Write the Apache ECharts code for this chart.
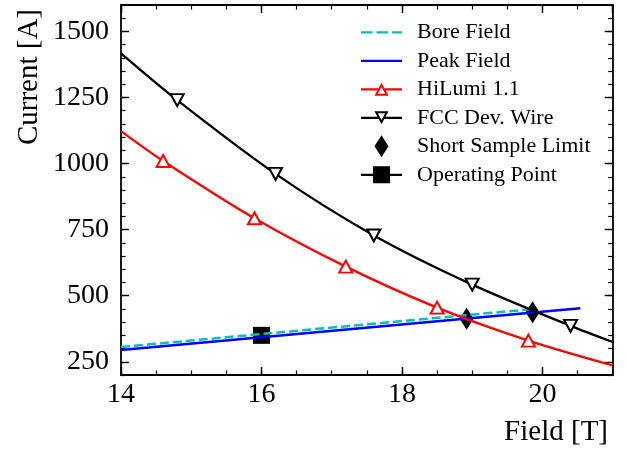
<!DOCTYPE html>
<html>
<head>
<meta charset="utf-8">
<script src="https://cdn.jsdelivr.net/npm/echarts@6/dist/echarts.min.js"></script>
<style>
  html, body { margin: 0; padding: 0; background: #fff; }
  #chart { width: 626px; height: 450px; }
</style>
</head>
<body>
<div id="chart"></div>
<script>
const boreField = [14, 19.84];
const boreCurrent = [306, 449];
const peakField = [14, 20.54];
const peakCurrent = [294.5, 453];
const hiLumiField = [14, 14.6, 15.9, 17.2, 18.5, 19.8, 21];
const hiLumiCurrent = [1123, 1010, 793, 610, 455, 330, 236];
const fccField = [14, 14.8, 16.2, 17.6, 19.0, 20.4, 21];
const fccCurrent = [1417, 1240, 961, 728, 542, 386, 325];
const sslField = [18.92, 19.86];
const sslCurrent = [413, 437];
const opField = [16.0];
const opCurrent = [350];
const currentTicks = [250, 500, 750, 1000, 1250, 1500];

const FONT = '"Liberation Serif", "DejaVu Serif", serif';

const pairs = (xs, ys) => xs.map((x, i) => [x, ys[i]]);
// curve ends carry no marker, only the sampled points do
const curve = (xs, ys) => xs.map((x, i) =>
  i === 0 || i === xs.length - 1 ? { value: [x, ys[i]], symbol: 'none' } : [x, ys[i]]
);

const icons = {
  bore: 'path://M0,-1.1h11.5v2.2h-11.5z M15.5,-1.1h11.5v2.2h-11.5z M31,-1.1h10v2.2h-10z',
  peak: 'path://M0,-1.1h41v2.2h-41z',
  up: 'path://M0,-1.1L18,-1.1L18,1.1L0,1.1Z M23,-1.1L41,-1.1L41,1.1L23,1.1Z M20.5,-6.5L27.5,6.5L13.5,6.5Z M20.5,-2.28L16.85,4.5L24.15,4.5Z',
  down: 'path://M0,-1.1L18,-1.1L18,1.1L0,1.1Z M23,-1.1L41,-1.1L41,1.1L23,1.1Z M13.5,-6.5L27.5,-6.5L20.5,6.5Z M16.85,-4.5L20.5,2.28L24.15,-4.5Z',
  diamond: 'path://M7,0L14,11L7,22L0,11Z',
  square: 'path://M0,-1.1h41v2.2h-41z M12,-8.5h17v17h-17z',
};

const legendItem = (name, icon, color) => ({
  name,
  icon,
  itemStyle: { color, opacity: 1, borderWidth: 0, borderColor: color },
});

const frame = { show: true, onZero: false, lineStyle: { color: '#000', width: 1.8 } };
const majorTick = { show: true, inside: true, length: 8, lineStyle: { color: '#000', width: 1.4 } };
const minorTick = { show: true, inside: true, length: 4.5, lineStyle: { color: '#000', width: 1.2 } };
const labelStyle = { color: '#000', fontFamily: FONT, fontSize: 28, formatter: v => String(v) };

const xAxisBase = { type: 'value', min: 14, max: 21, splitLine: { show: false } };
const yAxisBase = { type: 'value', min: 200, max: 1600, splitLine: { show: false } };

const chart = echarts.init(document.getElementById('chart'));

chart.setOption({
  animation: false,
  grid: { left: 121, right: 13.3, top: 5, bottom: 75, containLabel: false, outerBoundsMode: 'none' },
  legend: {
    orient: 'vertical',
    left: 361,
    top: 21.3,
    padding: 0,
    itemWidth: 41,
    itemHeight: 22,
    itemGap: 6.5,
    selectedMode: false,
    textStyle: { color: '#000', fontFamily: FONT, fontSize: 22, lineHeight: 22, padding: [0, 0, 0, 10] },
    data: [
      legendItem('Bore Field', icons.bore, '#00bfbf'),
      legendItem('Peak Field', icons.peak, '#0000ff'),
      legendItem('HiLumi 1.1', icons.up, '#ff0000'),
      legendItem('FCC Dev. Wire', icons.down, '#000'),
      legendItem('Short Sample Limit', icons.diamond, '#000'),
      legendItem('Operating Point', icons.square, '#000'),
    ],
  },
  xAxis: [
    {
      ...xAxisBase,
      position: 'bottom',
      interval: 2,
      axisLine: frame,
      axisTick: majorTick,
      axisLabel: { ...labelStyle, margin: 6, showMaxLabel: false },
      name: 'Field [T]',
      nameLocation: 'end',
      nameGap: -4.7,
      nameTextStyle: { color: '#000', fontFamily: FONT, fontSize: 29, align: 'right', verticalAlign: 'top', padding: [43, 0, 0, 0] },
    },
    { ...xAxisBase, position: 'bottom', interval: 0.5, axisLine: { show: false }, axisTick: minorTick, axisLabel: { show: false } },
    { ...xAxisBase, position: 'top', interval: 2, axisLine: frame, axisTick: majorTick, axisLabel: { show: false } },
    { ...xAxisBase, position: 'top', interval: 0.5, axisLine: { show: false }, axisTick: minorTick, axisLabel: { show: false } },
  ],
  yAxis: [
    {
      ...yAxisBase,
      position: 'left',
      axisLine: frame,
      axisTick: { ...majorTick, customValues: currentTicks },
      axisLabel: { ...labelStyle, margin: 12, customValues: currentTicks },
      name: 'Current [A]',
      nameLocation: 'end',
      nameRotate: 90,
      nameGap: -4,
      nameTextStyle: { color: '#000', fontFamily: FONT, fontSize: 29, align: 'right', verticalAlign: 'bottom', padding: [0, 0, 77, 0] },
    },
    { ...yAxisBase, position: 'left', interval: 50, axisLine: { show: false }, axisTick: minorTick, axisLabel: { show: false } },
    { ...yAxisBase, position: 'right', axisLine: frame, axisTick: { ...majorTick, customValues: currentTicks }, axisLabel: { show: false } },
    { ...yAxisBase, position: 'right', interval: 50, axisLine: { show: false }, axisTick: minorTick, axisLabel: { show: false } },
  ],
  series: [
    {
      name: 'Bore Field',
      type: 'line',
      data: pairs(boreField, boreCurrent),
      symbol: 'none',
      color: '#00bfbf',
      lineStyle: { color: '#00bfbf', width: 2.5, type: [9, 4] },
    },
    {
      name: 'Peak Field',
      type: 'line',
      data: pairs(peakField, peakCurrent),
      symbol: 'none',
      color: '#0000ff',
      lineStyle: { color: '#0000ff', width: 2.5 },
    },
    {
      name: 'HiLumi 1.1',
      type: 'line',
      data: curve(hiLumiField, hiLumiCurrent),
      smooth: 0.3,
      symbol: 'triangle',
      symbolSize: [13, 12],
      showSymbol: true,
      itemStyle: { color: '#fff', borderColor: '#ff0000', borderWidth: 2 },
      lineStyle: { color: '#ff0000', width: 2.3 },
    },
    {
      name: 'FCC Dev. Wire',
      type: 'line',
      data: curve(fccField, fccCurrent),
      smooth: 0.3,
      symbol: 'triangle',
      symbolRotate: 180,
      symbolSize: [13, 12],
      showSymbol: true,
      itemStyle: { color: '#fff', borderColor: '#000', borderWidth: 2 },
      lineStyle: { color: '#000', width: 2.3 },
    },
    {
      name: 'Short Sample Limit',
      type: 'scatter',
      data: pairs(sslField, sslCurrent),
      symbol: 'diamond',
      symbolSize: [14, 22],
      itemStyle: { color: '#000', opacity: 1 },
    },
    {
      name: 'Operating Point',
      type: 'scatter',
      data: pairs(opField, opCurrent),
      symbol: 'rect',
      symbolSize: 17,
      itemStyle: { color: '#000', opacity: 1 },
    },
  ],
});
</script>
</body>
</html>
